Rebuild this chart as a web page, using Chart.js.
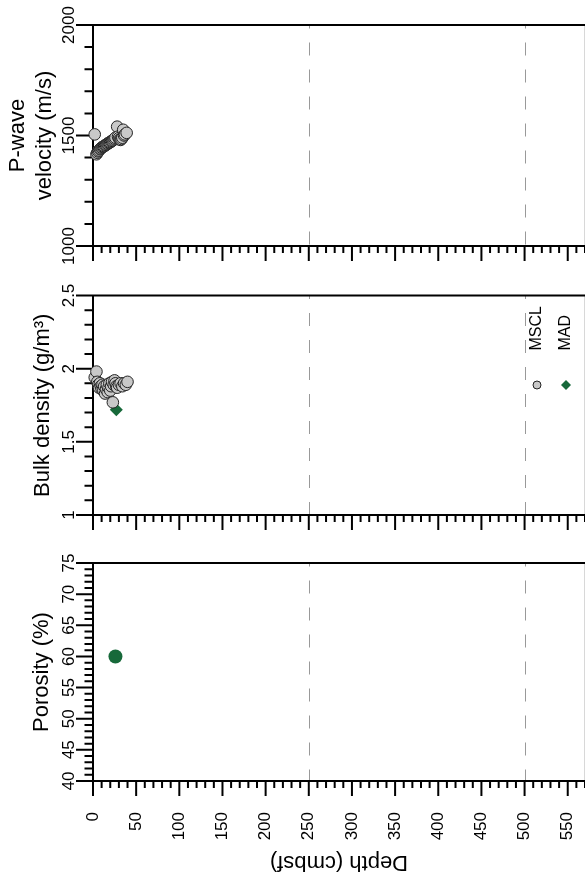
<!DOCTYPE html>
<html>
<head>
<meta charset="utf-8">
<script src="https://cdn.jsdelivr.net/npm/chart.js@4.4.1/dist/chart.umd.min.js"></script>
<style>
  body { margin: 0; background: #fff; }
  #wrap { position: relative; width: 585px; height: 877px; }
  canvas { position: absolute; left: 0; }
</style>
</head>
<body>
<div id="wrap">
  <canvas id="c1" width="585" height="275" style="top:0px"></canvas>
  <canvas id="c2" width="585" height="265" style="top:275px"></canvas>
  <canvas id="c3" width="585" height="337" style="top:540px"></canvas>
</div>
<script>
'use strict';
// depth ticks (cmbsf)
let depthTicks = [0, 50, 100, 150, 200, 250, 300, 350, 400, 450, 500, 550];
let dashDepths = [250, 500];

// P-wave velocity, MSCL
let vpDepth = [2, 4, 5, 6, 7, 8, 9, 10, 11, 12, 13, 14, 15, 16, 17, 18, 19, 20, 21, 22, 23, 24, 25, 26, 28, 29, 30, 31, 32, 33, 34, 35, 36, 37, 39];
let vpMSCL  = [1505, 1415, 1422, 1428, 1432, 1438, 1441, 1445, 1448, 1450, 1452, 1455, 1458, 1460, 1463, 1466, 1468, 1470, 1473, 1476, 1478, 1482, 1486, 1490, 1540, 1495, 1488, 1482, 1480, 1484, 1490, 1526, 1500, 1505, 1512];
let vpTicks = [1000, 1500, 2000];

// bulk density
let rhoDepth = [2, 4, 5, 6, 7, 8, 9, 10, 11, 12, 13, 14, 15, 16, 17, 18, 19, 20, 21, 22, 23, 24, 25, 26, 27, 28, 30, 32, 34, 36, 38, 40];
let rhoMSCL  = [1.94, 1.98, 1.91, 1.89, 1.87, 1.9, 1.88, 1.86, 1.89, 1.85, 1.88, 1.83, 1.86, 1.89, 1.84, 1.87, 1.9, 1.85, 1.88, 1.91, 1.77, 1.89, 1.92, 1.9, 1.88, 1.87, 1.89, 1.9, 1.88, 1.9, 1.89, 1.91];
let madDepth = [27];
let rhoMAD = [1.72];
let rhoTicks = [1, 1.5, 2, 2.5];

// porosity
let porDepth = [26];
let porMAD = [60];
let porTicks = [40, 45, 50, 55, 60, 65, 70, 75];

Chart.defaults.font.family = "'Liberation Sans', Arial, sans-serif";
Chart.defaults.color = '#000';

function pts(xs, ys){
    return xs.map(function(x, i){ return {x: x, y: ys[i]}; });
}

// axis lines, major/minor tick marks and the dashed depth markers
const framePlugin = {
    id: 'frame',
    beforeDatasetsDraw(chart, args, opts) {
        const ctx = chart.ctx;
        const a = chart.chartArea;
        const x = chart.scales.x;
        const y = chart.scales.y;
        ctx.save();
        ctx.strokeStyle = '#999';
        ctx.lineWidth = 1;
        ctx.setLineDash([13, 14]);
        ctx.lineDashOffset = 9.5;
        dashDepths.forEach(function(d){
            let px = Math.round(x.getPixelForValue(d)) + 0.5;
            ctx.beginPath();
            ctx.moveTo(px, a.top);
            ctx.lineTo(px, a.bottom);
            ctx.stroke();
        });
        ctx.setLineDash([]);
        // faint right edge
        ctx.strokeStyle = '#d8d8d8';
        ctx.beginPath();
        ctx.moveTo(a.right - 0.5, a.top);
        ctx.lineTo(a.right - 0.5, a.bottom);
        ctx.stroke();
        ctx.strokeStyle = '#000';
        ctx.lineWidth = 2;
        ctx.beginPath();
        ctx.moveTo(a.left, a.top); ctx.lineTo(a.right, a.top);
        ctx.moveTo(a.left, a.top); ctx.lineTo(a.left, a.bottom); ctx.lineTo(a.right, a.bottom);
        let n = Math.round((x.max - x.min) / opts.xMinor);
        for (let i = 0; i <= n; i++) {
            let v = x.min + i * opts.xMinor;
            let major = Math.abs(v / opts.xMajor - Math.round(v / opts.xMajor)) < 1e-6;
            let px = x.getPixelForValue(v);
            ctx.moveTo(px, a.bottom);
            ctx.lineTo(px, a.bottom + (major ? 15 : 7));
        }
        n = Math.round((y.max - y.min) / opts.yMinor);
        for (let i = 0; i <= n; i++) {
            let v = y.min + i * opts.yMinor;
            let major = Math.abs(v / opts.yMajor - Math.round(v / opts.yMajor)) < 1e-6;
            let py = y.getPixelForValue(v);
            ctx.moveTo(a.left, py);
            ctx.lineTo(a.left - (major ? 17 : 8.5), py);
        }
        ctx.stroke();
        ctx.restore();
    }
};

function xAxis(h, showLabels){
    return {
        type: 'linear', min: 0, max: 570,
        grid: {display: false, drawTicks: false},
        border: {display: false},
        afterBuildTicks: function(s){ s.ticks = depthTicks.map(function(v){ return {value: v}; }); },
        ticks: {display: showLabels, minRotation: 90, maxRotation: 90, autoSkip: false, padding: 31,
                font: {size: 17}, callback: function(v){ return String(v); }},
        afterFit: function(s){ s.height = h; s.paddingLeft = 0; s.paddingRight = 0; }
    };
}

function yAxis(min, max, tickVals, pad, title, titlePad){
    return {
        type: 'linear', min: min, max: max,
        grid: {display: false, drawTicks: false},
        border: {display: false},
        afterBuildTicks: function(s){ s.ticks = tickVals.map(function(v){ return {value: v}; }); },
        ticks: {minRotation: 90, maxRotation: 90, crossAlign: 'center', padding: pad,
                font: {size: 17}, callback: function(v){ return String(v); }},
        title: {display: true, text: title, font: {size: 22, lineHeight: 1.25}, padding: {top: titlePad, bottom: 0}},
        afterFit: function(s){ s.width = 93; s.paddingTop = 0; s.paddingBottom = 0; }
    };
}

function baseOptions(padTop, xh, showX, yax, ticksCfg){
    return {
        responsive: false,
        devicePixelRatio: 1,
        animation: false,
        layout: {autoPadding: false, padding: {top: padTop, left: 0, right: 0, bottom: 0}},
        plugins: {legend: {display: false}, tooltip: {enabled: false}, frame: ticksCfg},
        scales: {x: xAxis(xh, showX), y: yax}
    };
}

const msclStyle = {pointRadius: 5.8, pointBackgroundColor: '#c8c8c8', pointBorderColor: '#222', pointBorderWidth: 1, showLine: false, clip: false};
const green = '#17693a';

new Chart(document.getElementById('c1'), {
    type: 'scatter',
    data: {datasets: [Object.assign({label: 'MSCL', data: pts(vpDepth, vpMSCL)}, msclStyle)]},
    options: baseOptions(25, 29, false, yAxis(1000, 2000, vpTicks, 5, ['P-wave', 'velocity (m/s)'], 4),
        {xMinor: 10, xMajor: 50, yMinor: 100, yMajor: 500}),
    plugins: [framePlugin]
});

// rotated legend in density panel
const legendPlugin = {
    id: 'madLegend',
    afterDraw(chart) {
        const ctx = chart.ctx;
        const a = chart.chartArea;
        let items = [
            {text: 'MSCL', x: a.right - 48},
            {text: 'MAD', x: a.right - 19}
        ];
        ctx.save();
        ctx.font = "16px 'Liberation Sans', Arial, sans-serif";
        ctx.fillStyle = '#000';
        ctx.textAlign = 'left';
        ctx.textBaseline = 'middle';
        items.forEach(function(it){
            ctx.save();
            ctx.translate(it.x, a.top + 55);
            ctx.rotate(-Math.PI / 2);
            ctx.fillText(it.text, 0, 0);
            ctx.restore();
        });
        let my = a.top + 89.5;
        ctx.beginPath();
        ctx.arc(items[0].x, my, 4, 0, Math.PI * 2);
        ctx.fillStyle = '#c8c8c8';
        ctx.fill();
        ctx.lineWidth = 1;
        ctx.strokeStyle = '#222';
        ctx.stroke();
        ctx.beginPath();
        ctx.moveTo(items[1].x, my - 5);
        ctx.lineTo(items[1].x + 5, my);
        ctx.lineTo(items[1].x, my + 5);
        ctx.lineTo(items[1].x - 5, my);
        ctx.closePath();
        ctx.fillStyle = green;
        ctx.fill();
        ctx.restore();
    }
};

new Chart(document.getElementById('c2'), {
    type: 'scatter',
    data: {datasets: [
        Object.assign({label: 'MSCL', data: pts(rhoDepth, rhoMSCL)}, msclStyle),
        {label: 'MAD', data: pts(madDepth, rhoMAD), pointStyle: 'rectRot', pointRadius: 6.5,
         pointBackgroundColor: green, pointBorderColor: green, pointBorderWidth: 0, showLine: false, clip: false}
    ]},
    options: baseOptions(20.5, 25, false, yAxis(1, 2.5, rhoTicks, 12, 'Bulk density (g/m\u00b3)', 29),
        {xMinor: 10, xMajor: 50, yMinor: 0.1, yMajor: 0.5}),
    plugins: [framePlugin, legendPlugin]
});

// upside-down depth title under the bottom panel
const depthTitle = {
    id: 'depthTitle',
    afterDraw(chart) {
        const ctx = chart.ctx;
        const a = chart.chartArea;
        ctx.save();
        ctx.font = "22px 'Liberation Sans', Arial, sans-serif";
        ctx.fillStyle = '#000';
        ctx.textAlign = 'center';
        ctx.textBaseline = 'middle';
        ctx.translate((a.left + a.right) / 2, a.bottom + 81);
        ctx.rotate(Math.PI);
        ctx.fillText('Depth (cmbsf)', 0, 0);
        ctx.restore();
    }
};

new Chart(document.getElementById('c3'), {
    type: 'scatter',
    data: {datasets: [
        {label: 'MAD', data: pts(porDepth, porMAD), pointRadius: 7, pointBackgroundColor: green,
         pointBorderColor: green, pointBorderWidth: 0, showLine: false, clip: false}
    ]},
    options: baseOptions(23, 96, true, yAxis(40, 75, porTicks, 14.5, 'Porosity (%)', 28),
        {xMinor: 10, xMajor: 50, yMinor: 1, yMajor: 5}),
    plugins: [framePlugin, depthTitle]
});
</script>
</body>
</html>
